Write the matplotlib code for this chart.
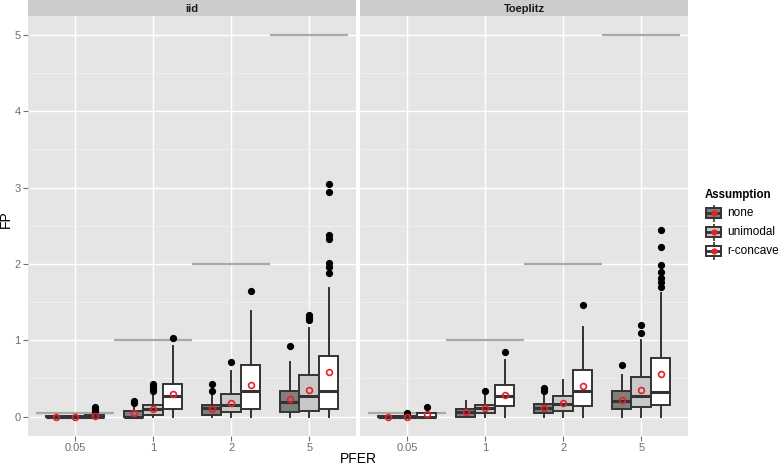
import matplotlib
matplotlib.use("Agg")
import matplotlib.pyplot as plt
import numpy as np

plt.rcParams['font.family'] = ['Liberation Sans', 'DejaVu Sans']

# ---------------- data ----------------
pfer_labels = ["0.05", "1", "2", "5"]
pfer_values = [0.05, 1, 2, 5]
assumptions = ["none", "unimodal", "r-concave"]
fills = ["#7F7F7F", "#C8C8C8", "#FFFFFF"]
panels = ["iid", "Toeplitz"]

# rows: none, unimodal, r-concave ; columns: PFER 0.05, 1, 2, 5
iid_lo = [[0, 0, 0, 0], [0, 0, 0, 0], [0, 0, 0, 0]]
iid_q1 = [[0, 0, 0.02, 0.065], [0, 0.02, 0.065, 0.08], [0, 0.10, 0.105, 0.105]]
iid_med = [[0, 0, 0.11, 0.19], [0, 0.10, 0.15, 0.265], [0, 0.265, 0.34, 0.335]]
iid_q3 = [[0.01, 0.08, 0.15, 0.34], [0.01, 0.15, 0.29, 0.545], [0.02, 0.43, 0.67, 0.80]]
iid_hi = [[0.02, 0.12, 0.29, 0.72], [0.02, 0.29, 0.60, 1.16], [0.04, 0.92, 1.38, 1.68]]
iid_mean = [[0.0, 0.05, 0.105, 0.23], [0.0, 0.105, 0.18, 0.35], [0.01, 0.297, 0.41, 0.59]]
iid_out = [
    [[], [0.18, 0.20], [0.34, 0.43], [0.92]],
    [[], [0.33, 0.36, 0.40, 0.43], [0.72], [1.26, 1.29, 1.33]],
    [[0.08, 0.10, 0.13], [1.03], [1.65], [1.88, 1.96, 2.01, 2.33, 2.38, 2.94, 3.05]],
]

toe_lo = [[0, 0, 0, 0], [0, 0, 0, 0], [0, 0, 0, 0]]
toe_q1 = [[0, 0, 0.043, 0.105], [0, 0.043, 0.08, 0.13], [0, 0.14, 0.14, 0.153]]
toe_med = [[0, 0.056, 0.11, 0.21], [0, 0.11, 0.17, 0.265], [0, 0.27, 0.33, 0.32]]
toe_q3 = [[0.01, 0.095, 0.17, 0.33], [0.01, 0.153, 0.27, 0.52], [0.05, 0.41, 0.61, 0.77]]
toe_hi = [[0.01, 0.21, 0.29, 0.54], [0.01, 0.29, 0.48, 1.0], [0.05, 0.745, 1.18, 1.62]]
toe_mean = [[0.0, 0.056, 0.11, 0.22], [0.0, 0.11, 0.18, 0.35], [0.03, 0.28, 0.40, 0.56]]
toe_out = [
    [[], [], [0.34, 0.375], [0.68]],
    [[0.05], [0.33], [], [1.10, 1.20]],
    [[0.13], [0.845], [1.46], [1.70, 1.76, 1.82, 1.90, 1.99, 2.22, 2.44]],
]

panel_data = {
    "iid": (iid_lo, iid_q1, iid_med, iid_q3, iid_hi, iid_mean, iid_out),
    "Toeplitz": (toe_lo, toe_q1, toe_med, toe_q3, toe_hi, toe_mean, toe_out),
}

# ---------------- layout ----------------
W, H = 779, 466
fig = plt.figure(figsize=(W / 100, H / 100), dpi=100)


def px_axes(x0, y0, x1, y1):
    return fig.add_axes([x0 / W, 1 - y1 / H, (x1 - x0) / W, (y1 - y0) / H])


panel_x = [(28.3, 356.0), (360.3, 688.0)]
top, bottom = 15.7, 435.7
edge = "#333333"
tick_col = "#6E6E6E"
offsets = [-0.25, 0.0, 0.25]

for p, name in enumerate(panels):
    x0, x1 = panel_x[p]
    ax = px_axes(x0, top, x1, bottom)
    ax.set_facecolor("#E5E5E5")
    for s in ax.spines.values():
        s.set_visible(False)
    lo, q1, med, q3, hi, mean, out = panel_data[name]
    xs = np.arange(len(pfer_labels))

    # PFER reference segments
    ax.hlines(pfer_values, xs - 0.5, xs + 0.5, color="#A8A8A8", lw=1.6, zorder=1.5)

    for a in range(len(assumptions)):
        stats = []
        for j in range(len(pfer_labels)):
            stats.append(dict(whislo=lo[a][j], q1=q1[a][j], med=med[a][j], q3=q3[a][j],
                              whishi=hi[a][j], mean=mean[a][j], fliers=out[a][j]))
        bp = ax.bxp(stats, positions=xs + offsets[a], widths=0.25, patch_artist=True,
                    showmeans=True, showcaps=False, manage_ticks=False,
                    boxprops=dict(facecolor=fills[a], edgecolor=edge, linewidth=1.4),
                    medianprops=dict(color=edge, linewidth=2.2),
                    whiskerprops=dict(color=edge, linewidth=1.4),
                    flierprops=dict(marker="o", markerfacecolor="black",
                                    markeredgecolor="black", markersize=4.2),
                    meanprops=dict(marker="o", markerfacecolor="none",
                                   markeredgecolor="#E8202A", markeredgewidth=1.2,
                                   markersize=4.2),
                    zorder=3)

    ax.set_xlim(-0.6, 3.6)
    ax.set_ylim(-0.25, 5.25)
    ax.set_xticks(xs)
    ax.set_xticklabels(pfer_labels)
    ax.set_yticks(range(6))
    ax.set_yticks(np.arange(0.5, 5.0, 1.0), minor=True)
    ax.grid(which="major", color="white", lw=1.0, zorder=0)
    ax.grid(which="minor", axis="y", color="#F2F2F2", lw=0.5, zorder=0)
    ax.set_axisbelow(True)
    ax.tick_params(which="major", length=3.3, width=0.8, color=tick_col,
                   labelcolor=tick_col, labelsize=8, pad=2.2)
    ax.tick_params(which="minor", length=0)
    if p > 0:
        ax.tick_params(axis="y", left=False, labelleft=False)

    # strip
    sax = px_axes(x0, 0, x1, top)
    sax.set_facecolor("#CCCCCC")
    sax.set_xticks([])
    sax.set_yticks([])
    for s in sax.spines.values():
        s.set_visible(False)
    sax.text(0.5, 0.45, name, ha="center", va="center", fontsize=8,
             fontweight="bold", color="#1A1A1A", transform=sax.transAxes)

# axis titles
fig.text(358 / W, 1 - 459 / H, "PFER", ha="center", va="center", fontsize=10, color="black")
fig.text(6 / W, 1 - 219 / H, "FP", ha="center", va="center", fontsize=10,
         rotation=90, color="black")

# legend
fig.text(705 / W, 1 - 195 / H, "Assumption", ha="left", va="center", fontsize=8.3,
         fontweight="bold", color="black")
key_y = [213, 232, 251]
for a, lab in enumerate(assumptions):
    kx0, kx1 = 705, 722
    ky0, ky1 = key_y[a] - 8.5, key_y[a] + 8.5
    kax = px_axes(kx0, ky0, kx1, ky1)
    kax.set_xlim(0, 1)
    kax.set_ylim(0, 1)
    kax.axis("off")
    kax.plot([0.5, 0.5], [0.0, 1.0], color=edge, lw=1.2)
    kax.add_patch(plt.Rectangle((0.05, 0.22), 0.9, 0.56, facecolor=fills[a],
                                edgecolor=edge, lw=1.4, zorder=2))
    kax.plot([0.05, 0.95], [0.5, 0.5], color=edge, lw=2.0, zorder=3)
    kax.plot([0.5], [0.5], marker="o", color="#E8202A", markersize=3.5, zorder=4)
    fig.text(727 / W, 1 - key_y[a] / H, lab, ha="left", va="center", fontsize=8.5,
             color="black")

fig.savefig("out.png", dpi=100)
